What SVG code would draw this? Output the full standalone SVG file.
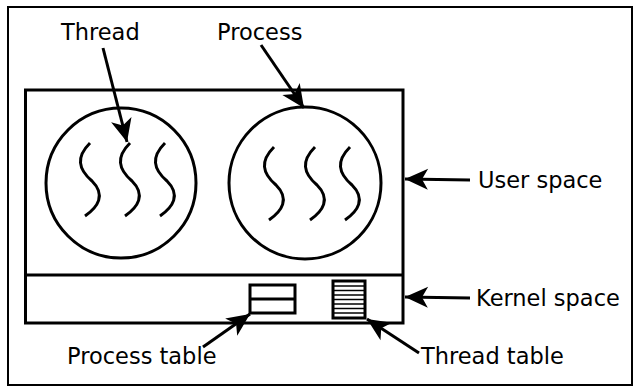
<svg xmlns="http://www.w3.org/2000/svg" width="639" height="388" viewBox="0 0 639 388">
  <style>
    .frame { fill: none; stroke: #000; stroke-width: 2; }
    .box { fill: none; stroke: #000; stroke-width: 3; }
    .thread { fill: none; stroke: #000; stroke-width: 3; stroke-linecap: butt; }
    .conn { fill: none; stroke: #000; stroke-width: 3; marker-end: url(#head); }
    .label { font-family: "DejaVu Sans", sans-serif; font-size: 22.5px; fill: #000; }
  </style>
  <defs>
    <marker id="head" markerUnits="userSpaceOnUse" markerWidth="30" markerHeight="30" refX="0" refY="0" viewBox="-26 -13 30 26" orient="auto">
      <path d="M0,0 L-23,-10.5 L-17,0 L-23,10.5 Z" fill="#000"/>
    </marker>
    <path id="wave" d="M0,0 C-14,14 -12,26 2,38 C16,52 8,64 -5,73"/>
  </defs>

  <rect class="frame" x="8" y="7" width="624" height="378"/>

  <g id="machine">
    <rect class="box" x="25.5" y="90" width="377.5" height="233"/>
    <line class="box" x1="25.5" y1="275" x2="403" y2="275"/>
  </g>

  <g id="process-1">
    <circle class="box" cx="121" cy="183" r="75"/>
    <use href="#wave" class="thread" x="90" y="143"/>
    <use href="#wave" class="thread" x="130" y="143"/>
    <use href="#wave" class="thread" x="165" y="143"/>
  </g>

  <g id="process-2">
    <circle class="box" cx="305" cy="183" r="76"/>
    <use href="#wave" class="thread" x="274" y="147"/>
    <use href="#wave" class="thread" x="315" y="147"/>
    <use href="#wave" class="thread" x="350" y="147"/>
  </g>

  <g id="process-table">
    <rect class="box" x="250" y="285" width="45" height="28"/>
    <line class="box" x1="250" y1="299" x2="295" y2="299"/>
  </g>

  <g id="thread-table">
    <rect class="box" x="333" y="281" width="32" height="37"/>
    <g stroke="#000" stroke-width="1.5">
      <line x1="333" y1="286" x2="365" y2="286"/>
      <line x1="333" y1="290.5" x2="365" y2="290.5"/>
      <line x1="333" y1="295" x2="365" y2="295"/>
      <line x1="333" y1="299.5" x2="365" y2="299.5"/>
      <line x1="333" y1="304" x2="365" y2="304"/>
      <line x1="333" y1="308.5" x2="365" y2="308.5"/>
      <line x1="333" y1="313" x2="365" y2="313"/>
    </g>
  </g>

  <g id="connectors">
    <line class="conn" x1="103" y1="48" x2="127" y2="142"/>
    <line class="conn" x1="261" y1="45" x2="304" y2="108"/>
    <line class="conn" x1="470" y1="180" x2="405" y2="179"/>
    <line class="conn" x1="470" y1="298" x2="405" y2="297"/>
    <line class="conn" x1="203" y1="347" x2="250" y2="314"/>
    <line class="conn" x1="419" y1="353" x2="367" y2="319"/>
  </g>

  <g id="labels">
    <text class="label" x="61" y="40">Thread</text>
    <text class="label" x="217" y="40">Process</text>
    <text class="label" x="478" y="188">User space</text>
    <text class="label" x="476" y="306">Kernel space</text>
    <text class="label" x="67" y="364">Process table</text>
    <text class="label" x="421" y="364">Thread table</text>
  </g>
</svg>
